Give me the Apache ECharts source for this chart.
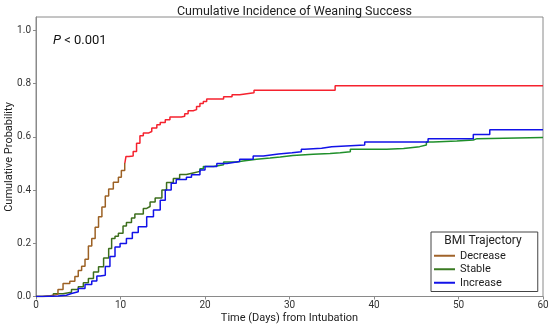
<!DOCTYPE html>
<html>
<head>
<meta charset="utf-8">
<script src="https://cdn.jsdelivr.net/npm/echarts@6/dist/echarts.min.js"></script>
<style>html,body{margin:0;padding:0;background:#fff}#c{width:550px;height:328px}</style>
</head>
<body>
<div id="c"></div>
<script>
var seriesNames = ['Decrease', 'Stable', 'Increase'];
var xTicks = [0, 10, 20, 30, 40, 50, 60];
var yTicks = [0, 0.2, 0.4, 0.6, 0.8, 1.0];

var decreaseDays = [0, 0.8, 1.7, 2.6, 3.2, 4.0, 4.6, 5.0, 5.4, 5.8, 6.2, 6.6, 7.0, 7.4, 7.8, 8.2, 8.6, 9.15, 9.75, 10.1, 10.5, 10.65, 11.0, 11.5, 11.9, 12.3, 12.7, 13.3, 13.7, 14.3, 14.7, 15.3, 15.85, 17.2, 17.6, 18.0, 18.6, 19.0, 19.4, 19.8, 20.2, 22.2, 23.2, 24.1, 25.8, 35.4, 60];
var decreaseProb = [0, 0.003, 0.008, 0.026, 0.049, 0.057, 0.075, 0.098, 0.114, 0.14, 0.19, 0.218, 0.26, 0.30, 0.336, 0.378, 0.404, 0.429, 0.448, 0.473, 0.498, 0.526, 0.528, 0.545, 0.576, 0.604, 0.614, 0.62, 0.633, 0.645, 0.654, 0.664, 0.674, 0.677, 0.687, 0.698, 0.702, 0.714, 0.725, 0.733, 0.742, 0.75, 0.758, 0.765, 0.775, 0.792, 0.792];

var stableDays = [0, 0.7, 2.05, 3.2, 4.2, 5.0, 5.6, 6.2, 6.8, 7.4, 8.0, 8.6, 8.95, 9.35, 9.75, 10.3, 10.7, 11.3, 11.7, 12.7, 13.1, 13.5, 14.1, 14.9, 15.45, 16.25, 17.0, 17.8, 18.6, 19.4, 19.8, 21.0, 22.2, 23.75, 24.5, 26.1, 27.7, 28.9, 30.4, 32.8, 34.8, 36.0, 37.2, 41.5, 43.5, 45.4, 46.2, 47.0, 49.8, 51.75, 52.2, 60];
var stableProb = [0, 0.002, 0.01, 0.016, 0.026, 0.037, 0.052, 0.068, 0.092, 0.112, 0.145, 0.18, 0.218, 0.226, 0.238, 0.265, 0.278, 0.295, 0.31, 0.331, 0.338, 0.355, 0.37, 0.4, 0.428, 0.443, 0.458, 0.464, 0.47, 0.48, 0.488, 0.495, 0.505, 0.509, 0.516, 0.52, 0.524, 0.53, 0.534, 0.537, 0.54, 0.544, 0.553, 0.556, 0.563, 0.569, 0.58, 0.584, 0.588, 0.593, 0.597, 0.597];

var increaseDays = [0, 0.8, 2.6, 3.6, 4.2, 5.0, 5.8, 6.6, 7.2, 7.6, 8.2, 8.75, 9.35, 9.95, 10.7, 11.4, 12.1, 13.1, 13.9, 14.7, 15.3, 16.0, 16.6, 17.8, 18.4, 19.4, 20.0, 21.4, 22.6, 24.1, 25.7, 26.9, 28.7, 30.3, 31.4, 31.8, 33.8, 35.0, 38.9, 46.4, 51.75, 53.7, 60];
var increaseProb = [0, 0.002, 0.005, 0.011, 0.018, 0.03, 0.045, 0.058, 0.077, 0.08, 0.113, 0.15, 0.186, 0.199, 0.218, 0.24, 0.262, 0.3, 0.325, 0.362, 0.4, 0.425, 0.44, 0.448, 0.457, 0.475, 0.488, 0.5, 0.507, 0.516, 0.528, 0.535, 0.54, 0.544, 0.553, 0.557, 0.563, 0.569, 0.58, 0.593, 0.609, 0.626, 0.626];

function pairs(xs, ys) { return xs.map(function (x, i) { return [x, ys[i]]; }); }

// Two-tone line colour: lower part (below a probability threshold) darker, upper part brighter.
function twoTone(ys, threshold, lowColor, highColor) {
  var mx = Math.max.apply(null, ys), mn = Math.min.apply(null, ys);
  var s = (mx - threshold) / (mx - mn);
  return new echarts.graphic.LinearGradient(0, 0, 0, 1, [
    { offset: 0, color: highColor }, { offset: s, color: highColor },
    { offset: s, color: lowColor }, { offset: 1, color: lowColor }
  ]);
}

var FONT = 'Roboto';
var AXIS_COLOR = '#8a8a8a';
var chart = echarts.init(document.getElementById('c'), null, { renderer: 'canvas' });

chart.setOption({
  animation: false,
  backgroundColor: '#fff',
  textStyle: { fontFamily: FONT },
  title: {
    text: 'Cumulative Incidence of Weaning Success',
    left: 289.5, top: 0, textAlign: 'center',
    textStyle: { fontFamily: FONT, fontSize: 12.5, fontWeight: 'normal', color: '#222' }
  },
  grid: { left: 36, right: 7, top: 17, bottom: 31.5, show: true, borderColor: AXIS_COLOR, borderWidth: 1,
    backgroundColor: 'transparent', containLabel: false, outerBoundsMode: 'none' },
  xAxis: {
    type: 'value', min: 0, max: 60, interval: 10,
    axisLine: { show: true, lineStyle: { color: AXIS_COLOR } },
    axisTick: { show: true, length: 3, lineStyle: { color: AXIS_COLOR } },
    axisLabel: { fontFamily: FONT, fontSize: 10, color: '#333', margin: 4 },
    splitLine: { show: false }
  },
  yAxis: {
    type: 'value', min: 0, max: 1.05,
    axisLine: { show: true, lineStyle: { color: AXIS_COLOR } },
    axisTick: { show: true, length: 3, customValues: yTicks, lineStyle: { color: AXIS_COLOR } },
    axisLabel: { fontFamily: FONT, fontSize: 10, color: '#333', margin: 5, customValues: yTicks,
      formatter: function (v) { return v.toFixed(1); } },
    splitLine: { show: false }
  },
  legend: {
    orient: 'vertical', left: 431, top: 232,
    padding: [17, 32, 2, 3],
    backgroundColor: '#fff', borderColor: '#444', borderWidth: 1, borderRadius: 0,
    itemWidth: 21, itemHeight: 2, itemGap: 0, icon: 'rect',
    textStyle: { fontFamily: FONT, fontSize: 11, color: '#222', lineHeight: 13.5 },
    data: [
      { name: 'Decrease', itemStyle: { color: '#a0632a' } },
      { name: 'Stable', itemStyle: { color: '#3a7a22' } },
      { name: 'Increase', itemStyle: { color: '#1212e8' } }
    ]
  },
  graphic: [
    { type: 'text', x: 483, y: 241, z: 100,
      style: { text: 'BMI Trajectory', font: '12px ' + FONT, fill: '#222', align: 'center', verticalAlign: 'middle' } },
    { type: 'text', x: 53, y: 41, z: 100,
      style: { rich: { i: { fontStyle: 'italic', fontSize: 13, fontFamily: FONT, fill: '#111' }, n: { fontSize: 13, fontFamily: FONT, fill: '#111' } },
        text: '{i|P}{n| < 0.001}', verticalAlign: 'middle' } },
    { type: 'text', x: 9, y: 157, rotation: Math.PI / 2, z: 100,
      style: { text: 'Cumulative Probability', font: '11px ' + FONT, fill: '#222', align: 'center', verticalAlign: 'middle' } },
    { type: 'text', x: 289.5, y: 318, z: 100,
      style: { text: 'Time (Days) from Intubation', font: '11px ' + FONT, fill: '#222', align: 'center', verticalAlign: 'middle' } }
  ],
  series: [
    { name: seriesNames[0], type: 'line', step: 'end', showSymbol: false, symbol: 'none',
      data: pairs(decreaseDays, decreaseProb),
      lineStyle: { width: 1.5, color: twoTone(decreaseProb, 0.5, '#9c6124', '#f5222e') },
      itemStyle: { color: '#a0632a' }, z: 3 },
    { name: seriesNames[1], type: 'line', step: 'end', showSymbol: false, symbol: 'none',
      data: pairs(stableDays, stableProb),
      lineStyle: { width: 1.5, color: twoTone(stableProb, 0.47, '#3c6e1c', '#1f8f2a') },
      itemStyle: { color: '#3a7a22' }, z: 2 },
    { name: seriesNames[2], type: 'line', step: 'end', showSymbol: false, symbol: 'none',
      data: pairs(increaseDays, increaseProb), lineStyle: { width: 1.5, color: '#1212e8' }, itemStyle: { color: '#1212e8' }, z: 4 }
  ]
});
</script>
</body>
</html>
